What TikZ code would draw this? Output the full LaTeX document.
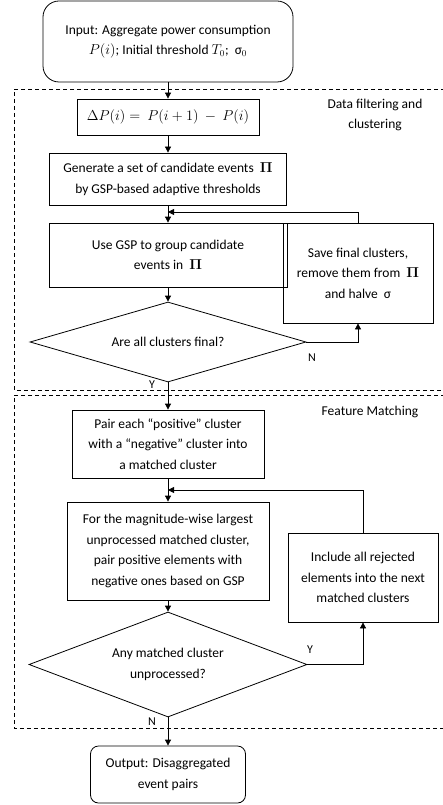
\documentclass[tikz,border=0pt]{standalone}
\usepackage[no-math]{fontspec}
\setmainfont{Carlito}
\usetikzlibrary{shapes.geometric,arrows.meta}
\tikzset{
  txt/.style={font=\fontsize{13.5}{20.5}\selectfont},
  box/.style={draw, line width=0.8pt, rectangle, align=center, inner sep=0pt, txt},
  rbox/.style={box, rounded corners=#1},
  dec/.style={draw, line width=0.8pt, diamond, align=center, inner sep=0pt, txt},
  arr/.style={line width=0.8pt, -{Triangle[length=6pt,width=6pt]}},
  frame/.style={line width=0.8pt, dash pattern=on 4pt off 3pt},
  lab/.style={txt, align=center, inner sep=0pt},
  yn/.style={font=\fontsize{12}{12}\selectfont, inner sep=0pt},
}
\begin{document}
\begin{tikzpicture}[x=1pt,y=-1pt]
\useasboundingbox (0,0) rectangle (443,805);
% frames
\draw[frame] (445,89) -- (14,89) -- (14,390) -- (445,390);
\draw[frame] (445,395) -- (14,395) -- (14,728) -- (445,728);
\node[lab] (lab1) at (375,115) {Data filtering and\\clustering};
\node[lab] (lab2) at (370,412) {Feature Matching};
% nodes
\node[rbox=16pt, minimum width=250pt, minimum height=81pt] (in) at (168,41.5)
  {Input: Aggregate power consumption\\$P(i)$; Initial threshold $T_0$;~ σ$_0$};
\node[box, minimum width=182pt, minimum height=36pt] (dp) at (168,117)
  {$\Delta P(i) =\ P(i+1)\ -\ P(i)$};
\node[box, minimum width=237pt, minimum height=52pt] (gen) at (168,179)
  {Generate a set of candidate events~ $\mathbf{\Pi}$\\by GSP-based adaptive thresholds};
\node[box, minimum width=238pt, minimum height=64pt] (use) at (168,255)
  {Use GSP to group candidate\\events in~ $\mathbf{\Pi}$};
\node[dec, aspect=3.45, minimum width=276pt, minimum height=80pt] (d1) at (168,342)
  {Are all clusters final?};
\node[box, minimum width=150pt, minimum height=100pt] (save) at (358,273)
  {Save final clusters,\\remove them from~ $\mathbf{\Pi}$\\and halve~ σ};
\node[box, minimum width=192pt, minimum height=68pt] (pair) at (168,444)
  {Pair each “positive” cluster\\with a “negative” cluster into\\a matched cluster};
\node[box, minimum width=202pt, minimum height=98pt] (for) at (168,551)
  {For the magnitude-wise largest\\unprocessed matched cluster,\\pair positive elements with\\negative ones based on GSP};
\node[box, minimum width=150pt, minimum height=89pt] (inc) at (363,577.5)
  {Include all rejected\\elements into the next\\matched clusters};
\node[dec, aspect=2.65, minimum width=278pt, minimum height=105pt] (d2) at (168,664.5)
  {Any matched cluster\\unprocessed?};
\node[rbox=8pt, minimum width=155pt, minimum height=57pt] (out) at (168,774.5)
  {Output: Disaggregated\\event pairs};
% connectors
\coordinate (j1) at (168,212);
\coordinate (j2) at (168,490);
\draw[arr] (in.south) -- (dp.north);
\draw[arr] (dp.south) -- (gen.north);
\draw[arr] (gen.south) -- (use.north);
\draw[arr] (use.south) -- (d1.north);
\draw[arr] (d1.east) -| (save.south);
\draw[arr] (save.north) |- (j1);
\draw[arr] (d1.south) -- (pair.north);
\draw[arr] (pair.south) -- (for.north);
\draw[arr] (inc.north) |- (j2);
\draw[arr] (for.south) -- (d2.north);
\draw[arr] (d2.east) -| (inc.south);
\draw[arr] (d2.south) -- (out.north);
% labels
\node[yn] (n1) at (312,358) {N};
\node[yn] (y1) at (152,385) {Y};
\node[yn] (y2) at (310,650) {Y};
\node[yn] (n2) at (152,722) {N};
\end{tikzpicture}
\end{document}
